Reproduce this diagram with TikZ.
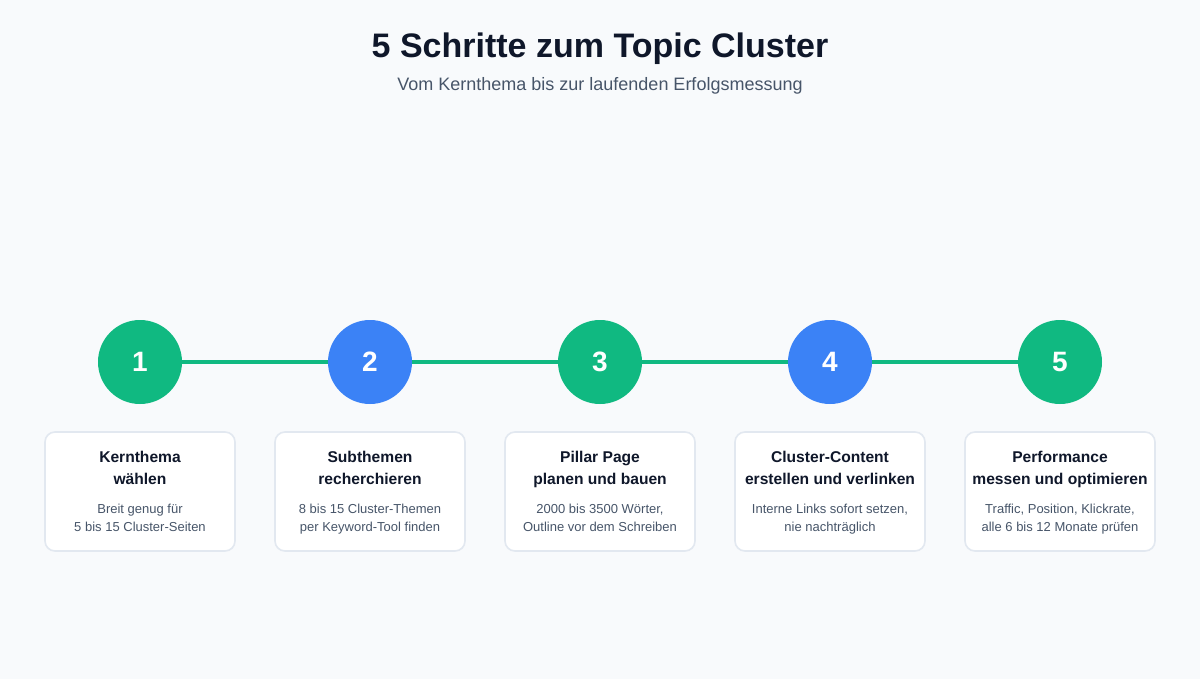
\documentclass[tikz,border=0pt]{standalone}
\usepackage{fontspec}
\setmainfont{Liberation Sans}
\definecolor{bg}{HTML}{F8FAFC}
\definecolor{stepgreen}{HTML}{10B981}
\definecolor{stepblue}{HTML}{3B82F6}
\definecolor{boxborder}{HTML}{E2E8F0}
\definecolor{dark}{HTML}{0F172A}
\definecolor{muted}{HTML}{475569}
\begin{document}
\begin{tikzpicture}[x=1pt,y=-1pt,
  numcircle/.style={circle, minimum size=84pt, inner sep=0pt, text=white, font=\fontsize{28}{28}\selectfont\bfseries},
  gstep/.style={numcircle, fill=stepgreen},
  bstep/.style={numcircle, fill=stepblue},
  connector/.style={draw=stepgreen, line width=4pt},
  cardbox/.style={draw=boxborder, line width=1.6pt, fill=white, rounded corners=10pt, minimum width=190pt, minimum height=119pt, inner sep=0pt},
  cardtitle/.style={align=center, text=dark, font=\fontsize{15.6}{22}\selectfont\bfseries, inner sep=0pt},
  carddesc/.style={align=center, text=muted, font=\fontsize{13}{18}\selectfont, inner sep=0pt}
]
\useasboundingbox[fill=bg] (0,0) rectangle (1200,679);

\node[text=dark, font=\fontsize{34}{34}\selectfont\bfseries, inner sep=0pt] (title) at (600,50) {\strut 5 Schritte zum Topic Cluster};
\node[text=muted, font=\fontsize{18}{18}\selectfont, inner sep=0pt] (subtitle) at (600,87) {\strut Vom Kernthema bis zur laufenden Erfolgsmessung};

\node[gstep] (c1) at (140,362) {1};
\node[bstep] (c2) at (370,362) {2};
\node[gstep] (c3) at (600,362) {3};
\node[bstep] (c4) at (830,362) {4};
\node[gstep] (c5) at (1060,362) {5};

\draw[connector] (c1) -- (c2);
\draw[connector] (c2) -- (c3);
\draw[connector] (c3) -- (c4);
\draw[connector] (c4) -- (c5);

\foreach \i/\x in {1/140,2/370,3/600,4/830,5/1060}{
  \node[cardbox] (b\i) at (\x,491.5) {};
}

\node[cardtitle] (t1) at (140,469) {\strut Kernthema\\\strut wählen};
\node[cardtitle] (t2) at (370,469) {\strut Subthemen\\\strut recherchieren};
\node[cardtitle] (t3) at (600,469) {\strut Pillar Page\\\strut planen und bauen};
\node[cardtitle] (t4) at (830,469) {\strut Cluster-Content\\\strut erstellen und verlinken};
\node[cardtitle] (t5) at (1060,469) {\strut Performance\\\strut messen und optimieren};

\node[carddesc] (d1) at (140,519) {\strut Breit genug für\\\strut 5 bis 15 Cluster-Seiten};
\node[carddesc] (d2) at (370,519) {\strut 8 bis 15 Cluster-Themen\\\strut per Keyword-Tool finden};
\node[carddesc] (d3) at (600,519) {\strut 2000 bis 3500 Wörter,\\\strut Outline vor dem Schreiben};
\node[carddesc] (d4) at (830,519) {\strut Interne Links sofort setzen,\\\strut nie nachträglich};
\node[carddesc] (d5) at (1060,519) {\strut Traffic, Position, Klickrate,\\\strut alle 6 bis 12 Monate prüfen};
\end{tikzpicture}
\end{document}
